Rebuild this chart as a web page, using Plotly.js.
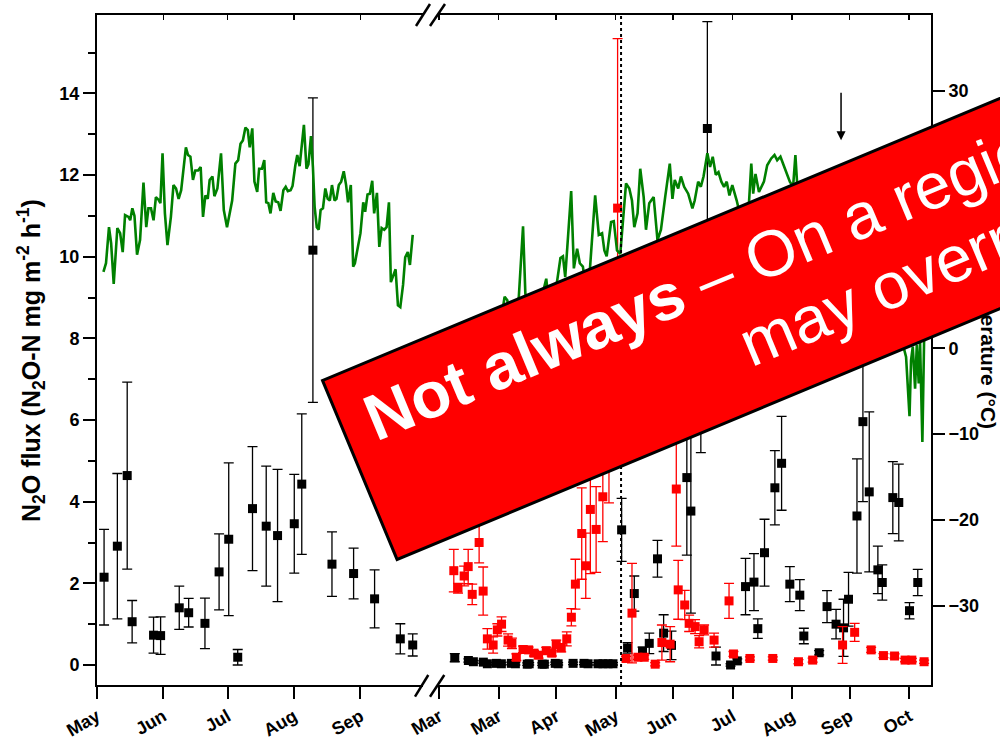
<!DOCTYPE html>
<html>
<head>
<meta charset="utf-8">
<script src="https://cdn.plot.ly/plotly-3.0.1.min.js"></script>
<style>
  html, body { margin: 0; padding: 0; background: #fff; }
  #chart { width: 1000px; height: 739px; }
</style>
</head>
<body>
<div id="chart"></div>
<script>
// ---- Axis ticks (two date segments separated by an axis break) ----
const seg1TickDays = [0, 31, 61, 92, 123];
const seg1TickText = ['May', 'Jun', 'Jul', 'Aug', 'Sep'];
const seg2TickDays = [0, 31, 61, 92, 122, 153, 184, 214, 245];
const seg2TickText = ['Mar', 'Mar', 'Apr', 'May', 'Jun', 'Jul', 'Aug', 'Sep', 'Oct'];

// ---- Temperature (°C), first season ----
const temp1Day = [3.0,4.2,5.6,6.6,7.8,9.5,10.8,12.0,13.1,14.7,15.5,16.5,17.5,18.7,20.1,21.7,23.0,24.0,25.2,26.4,27.5,28.7,29.6,30.6,31.7,32.9,34.5,35.7,36.9,38.1,39.3,41.5,42.5,43.6,44.8,45.9,47.2,48.4,49.5,50.6,51.7,52.6,53.9,54.8,56.2,57.9,59.2,60.7,63.1,64.6,65.9,67.0,68.1,69.3,70.4,71.3,72.5,73.5,74.8,75.7,77.0,78.1,79.0,80.0,81.0,82.3,83.4,84.6,85.7,87.0,88.1,89.1,90.4,91.3,92.6,93.5,94.6,95.6,96.6,97.8,98.7,99.9,100.8,101.6,102.6,103.5,104.4,105.5,106.6,107.7,108.7,109.7,110.9,111.8,112.9,114.0,115.2,116.3,117.2,118.5,119.6,120.4,121.6,123.0,124.3,125.2,126.3,127.4,128.5,129.4,130.7,131.8,132.9,134.1,135.2,136.3,137.2,138.2,139.4,140.5,141.6,142.9,143.9,145.1,146.1,147.4];
const temp1 = [8.9,9.9,14.1,12.2,7.5,14.0,13.4,11.2,15.5,15.3,14.9,16.3,15.4,10.9,12.6,19.3,14.1,16.3,16.3,14.9,17.6,17.3,16.9,22.7,15.7,12.0,15.3,19.0,18.6,17.4,18.4,23.4,22.5,22.3,19.6,20.7,20.7,21.1,15.3,17.8,17.4,19.6,20.0,17.7,18.6,22.7,16.1,14.1,17.2,21.5,21.9,23.8,24.2,25.7,25.4,23.4,25.6,19.4,18.2,20.9,20.9,21.9,17.0,16.9,15.7,18.1,17.1,17.0,16.0,18.4,18.8,18.3,18.4,18.9,21.3,22.5,21.2,23.6,26.0,20.9,21.4,24.7,21.1,16.5,14.1,13.8,16.1,16.3,18.6,17.4,17.2,19.0,17.2,17.4,19.0,19.4,20.6,19.0,17.0,19.0,9.5,9.9,11.6,13.4,17.0,15.9,17.9,18.0,19.5,15.7,18.1,11.8,14.0,13.8,14.1,17.0,7.7,8.3,9.2,5.0,4.8,7.4,10.6,11.2,9.7,13.2];

// ---- Temperature (°C), second season ----
const temp2Day = [0.5,2,4,6,8,10,12,14,16,18,20,22,24,26,28,30,32,34.1,35.5,37,39,41.5,43.7,44.9,47,49,51,53,55.8,57,59,61.9,63.2,64.5,65.7,68.8,70.2,71.9,73.3,74.9,76.5,78.5,81.3,83.2,84.9,86.1,87.3,89.6,91.0,92.7,94.4,97.4,99.1,100.5,101.7,103.4,104.8,106.6,107.8,109.5,111.8,113.8,115.6,117.8,120.2,121.6,122.8,124.6,126.0,127.7,129.8,132.0,133.2,135.0,136.4,137.8,139.8,141.2,142.6,144.2,145.6,147.1,148.5,149.9,151.3,152.8,155.1,157.1,159,161,162.7,163.7,164.9,166.7,169.3,171.0,173.1,174.8,176.2,177.9,179.7,181.4,182.8,184.5,185.7,188,190,192,194,196,198,200,202,204,206,208,210,212,214,216,218,220,222,224,226,228,230,232,234,236,238,240,241.9,243.4,245.2,246.0,246.9,248.1,249.0,250.0,250.7,251.9,252.8];
const temp2 = [1.0,-1.0,0.5,1.5,-0.5,1.0,1.5,0.0,-2.0,1.5,2.5,1.0,3.0,1.0,2.5,4.0,3.0,6.0,5.6,3.5,2.5,6.0,14.2,6.4,4.0,5.0,3.0,5.5,8.1,5.5,4.0,8.3,10.5,10.7,8.3,18.3,9.3,11.6,9.9,9.5,7.0,9.0,17.8,13.2,13.4,11.4,10.7,14.7,14.8,11.4,11.0,19.2,18.6,17.2,14.1,15.7,20.9,17.6,13.8,16.9,17.6,12.6,13.8,17.6,21.5,17.4,19.6,18.6,20.0,18.8,18.0,16.3,17.2,19.4,18.8,20.0,22.7,21.1,22.3,20.2,20.5,19.4,18.8,19.4,17.8,19.0,17.2,15.3,13.0,15.0,21.5,18.0,20.3,18.2,19.4,21.3,22.1,22.5,21.9,22.3,21.3,20.3,19.4,18.8,22.5,14.0,17.0,15.0,17.5,16.0,13.0,16.0,14.0,16.5,12.0,14.0,15.0,11.0,13.0,10.0,12.0,9.0,11.0,8.0,10.0,7.0,5.0,8.0,4.0,6.0,3.0,2.0,0.2,-1.0,-7.9,-1.4,0.2,-4.7,0.4,-4.1,0.6,-10.9,1.0];

// ---- N2O flux, black series, first season ----
const black1Day  = [3.3,9.5,14.1,16.4,26.4,29.7,38.4,42.8,50.4,57.0,61.5,65.7,72.6,79.0,84.3,92.1,95.6,100.8,109.7,119.8,129.6,141.6,147.4];
const black1Flux = [2.15,2.91,4.64,1.06,0.73,0.72,1.40,1.28,1.02,2.28,3.08,0.19,3.83,3.40,3.17,3.46,4.43,10.16,2.47,2.24,1.62,0.64,0.49];
const black1Err  = [1.17,1.78,2.29,0.52,0.44,0.46,0.53,0.35,0.62,0.93,1.87,0.19,1.52,1.47,1.62,1.21,1.72,3.73,0.79,0.62,0.71,0.37,0.27];

// ---- N2O flux, black series, second season ----
const black2Day  = [8.1,15.2,17.8,23.0,25.1,29.8,32.4,37.6,39.7,45.9,46.9,53.7,54.8,60.5,62.0,69.8,75.5,77.6,82.8,85.4,88.0,90.6,95.1,98.2,101.7,106.0,109.5,113.8,117.0,121.1,129.1,131.2,136.4,139.8,144.3,151.9,155.4,159.7,164.1,166.1,169.6,175.0,178.5,182.8,188.0,190.1,198.1,202.2,206.9,210.8,213.4,217.8,220.9,224.2,228.7,231.0,236.5,239.6,245.2,249.5];
const black2Flux = [0.18,0.11,0.08,0.07,0.03,0.04,0.03,0.04,0.03,0.02,0.03,0.02,0.02,0.04,0.03,0.04,0.04,0.03,0.03,0.03,0.03,0.03,3.31,0.42,1.75,0.34,0.53,2.60,0.78,0.48,4.59,3.77,6.90,13.14,0.22,0.00,0.10,1.92,2.03,0.89,2.75,4.34,4.94,1.98,1.71,0.71,0.30,1.43,1.00,0.91,1.61,3.65,5.96,4.24,2.33,2.02,4.10,3.98,1.33,2.02];
const black2Err  = [0.10,0.04,0.03,0.03,0.03,0.03,0.03,0.03,0.03,0.03,0.03,0.03,0.03,0.03,0.03,0.03,0.03,0.03,0.03,0.03,0.03,0.03,0.77,0.13,0.43,0.10,0.25,0.45,0.45,0.35,1.90,2.50,1.70,2.62,0.22,0.03,0.05,0.69,0.70,0.24,0.82,0.91,1.15,0.43,0.38,0.19,0.05,0.39,0.36,0.70,0.66,1.40,1.96,1.96,0.58,0.43,0.88,0.94,0.20,0.32];

// ---- N2O flux, red series, second season ----
const redDay  = [7.6,9.8,13.0,15.1,17.2,20.8,22.9,25.1,28.1,30.3,32.5,35.9,37.9,40.2,43.7,46.6,49.4,51.8,55.8,58.7,61.0,63.6,66.5,68.9,71.0,74.3,76.4,78.8,81.8,85.3,88.5,93.0,97.4,100.5,103.6,106.9,112.6,116.1,120.4,123.6,124.6,128.0,130.3,133.4,135.5,138.1,143.3,151.1,153.4,162.0,173.9,187.3,194.7,210.3,216.6,225.2,231.6,237.4,242.9,246.4,252.8];
const redFlux = [2.31,1.88,2.18,2.41,1.73,3.00,1.81,0.64,0.49,0.86,1.00,0.61,0.53,0.19,0.38,0.37,0.29,0.24,0.35,0.29,0.51,0.42,0.64,1.17,1.98,3.22,2.43,3.81,3.32,4.12,5.30,11.19,0.16,1.27,0.19,0.19,0.02,0.55,0.51,4.31,1.84,1.47,1.02,0.94,0.57,0.86,0.61,1.57,0.27,0.16,0.16,0.08,0.12,0.49,0.80,0.37,0.23,0.22,0.12,0.12,0.08];
const redErr  = [0.52,0.12,0.24,0.42,0.25,0.50,0.59,0.25,0.20,0.15,0.18,0.15,0.13,0.08,0.08,0.07,0.07,0.07,0.08,0.07,0.10,0.10,0.17,0.21,0.61,1.12,0.80,1.57,1.05,1.10,1.33,4.15,0.05,1.22,0.05,0.05,0.04,0.43,0.43,1.40,0.72,0.36,0.20,0.17,0.15,0.12,0.17,0.43,0.06,0.04,0.04,0.05,0.05,0.45,0.22,0.06,0.05,0.05,0.04,0.04,0.04];

// ---- Event markers ----
const fertiliserDay = 94.8;     // dotted vertical line, second season
const arrowDay = 209.5;         // arrow, second season
const arrowFlux = 12.85;

// ---- Styling ----
const FONT = 'Liberation Sans, Arial, Helvetica, sans-serif';
const GREEN = '#008000';
const RED = '#ff0000';

function fluxTrace(x, y, err, color, xaxis) {
  return {
    type: 'scatter', mode: 'markers', x: x, y: y, xaxis: xaxis, yaxis: 'y',
    marker: { symbol: 'square', size: 9, color: color, line: { width: 0 } },
    error_y: { type: 'data', array: err, visible: true, color: color, thickness: 1.3, width: 5 },
    hoverinfo: 'x+y', showlegend: false, cliponaxis: false
  };
}

const traces = [
  { type: 'scatter', mode: 'lines', x: temp1Day, y: temp1, xaxis: 'x', yaxis: 'y2',
    line: { color: GREEN, width: 2.6 }, showlegend: false },
  { type: 'scatter', mode: 'lines', x: temp2Day, y: temp2, xaxis: 'x2', yaxis: 'y2',
    line: { color: GREEN, width: 2.6 }, showlegend: false },
  fluxTrace(black1Day, black1Flux, black1Err, '#000', 'x'),
  fluxTrace(black2Day, black2Flux, black2Err, '#000', 'x2'),
  fluxTrace(redDay, redFlux, redErr, RED, 'x2'),
  // carriers for the top (mirror) axes
  { type: 'scatter', mode: 'markers', x: [null], y: [null], xaxis: 'x3', yaxis: 'y', showlegend: false, hoverinfo: 'skip' },
  { type: 'scatter', mode: 'markers', x: [null], y: [null], xaxis: 'x4', yaxis: 'y', showlegend: false, hoverinfo: 'skip' }
];

// plot frame in pixels
const L = 97, R = 931, T = 15, B = 685, W = 1000, H = 739;
const px2paperX = p => (p - L) / (R - L);
const px2paperY = p => (B - p) / (B - T);
const seg1End = 423, seg2Start = 437.5;

const tickFont = { family: FONT, size: 18, color: '#000', weight: 'bold' };

function bottomAxis(domain, range, vals, text) {
  return {
    domain: domain, range: range, anchor: 'y',
    tickmode: 'array', tickvals: vals, ticktext: text, tickangle: -30,
    ticks: 'outside', ticklen: 12, tickwidth: 2, tickcolor: '#000',
    showline: true, linewidth: 2, linecolor: '#000',
    showgrid: false, zeroline: false, tickfont: tickFont, fixedrange: true
  };
}
function topAxis(over, range, vals) {
  return {
    overlaying: over, side: 'top', anchor: 'y', range: range,
    tickmode: 'array', tickvals: vals, showticklabels: false,
    ticks: 'inside', ticklen: 5, tickwidth: 1.5, tickcolor: '#000',
    showline: true, linewidth: 2, linecolor: '#000',
    showgrid: false, zeroline: false, fixedrange: true
  };
}

const range1 = [0, 152.2];
const range2 = [-0.9, 256.4];

const breakMark = (x0, y0, x1, y1) => ({
  type: 'line', xref: 'paper', yref: 'paper',
  x0: px2paperX(x0), y0: px2paperY(y0), x1: px2paperX(x1), y1: px2paperY(y1),
  line: { color: '#000', width: 2.5 }
});

// banner geometry (rotated strip crossing the plot)
const ang = 22.6 * Math.PI / 180;
const ux = Math.cos(ang), uy = -Math.sin(ang);   // along the strip
const nx = Math.sin(ang), ny = Math.cos(ang);    // across the strip (downwards)
const stripLen = 900, stripThick = 197;
const stripLeftMid = [358.85, 470.85];
const stripCenter = [stripLeftMid[0] + ux * stripLen / 2, stripLeftMid[1] + uy * stripLen / 2];

const bannerSize = 65;
function lineCenter(start, widthEm) {
  const w = widthEm * bannerSize;
  const up = 0.33 * bannerSize;
  return [start[0] + ux * w / 2 - nx * up, start[1] + uy * w / 2 - ny * up];
}
const line1Start = [376, 441], line2Start = [751, 366];
const c1 = lineCenter(line1Start, 11.561);
const c2 = lineCenter(line2Start, 5.779);

const layout = {
  width: W, height: H,
  margin: { l: L, r: W - R, t: T, b: H - B, pad: 0 },
  paper_bgcolor: '#fff', plot_bgcolor: '#fff',
  showlegend: false,
  font: { family: FONT, color: '#000' },
  xaxis: bottomAxis([0, px2paperX(seg1End)], range1, seg1TickDays, seg1TickText),
  xaxis2: bottomAxis([px2paperX(seg2Start), 1], range2, seg2TickDays, seg2TickText),
  xaxis3: topAxis('x', range1, seg1TickDays),
  xaxis4: topAxis('x2', range2, seg2TickDays),
  yaxis: {
    range: [-0.49, 15.92], anchor: 'x', side: 'left',
    tickmode: 'linear', tick0: 0, dtick: 2,
    ticks: 'outside', ticklen: 12, tickwidth: 2, tickcolor: '#000',
    minor: { tickmode: 'linear', tick0: 0, dtick: 1, ticks: 'outside', ticklen: 7, tickwidth: 2, tickcolor: '#000' },
    showline: true, linewidth: 2, linecolor: '#000',
    showgrid: false, zeroline: false, tickfont: tickFont, fixedrange: true
  },
  yaxis2: {
    range: [-39.2, 38.8], overlaying: 'y', anchor: 'x2', side: 'right',
    tickmode: 'linear', tick0: 0, dtick: 10,
    ticks: 'outside', ticklen: 12, tickwidth: 2, tickcolor: '#000',
    showline: true, linewidth: 2, linecolor: '#000',
    showgrid: false, zeroline: false, tickfont: tickFont, fixedrange: true
  },
  shapes: [
    { type: 'line', xref: 'x2', yref: 'paper', x0: fertiliserDay, x1: fertiliserDay, y0: 0, y1: 1,
      line: { color: '#000', width: 2, dash: 'dot' } },
    breakMark(415, 696.7, 428.3, 675), breakMark(430, 696.7, 444.3, 675),
    breakMark(416, 26, 430, 4), breakMark(430, 26, 445, 4)
  ],
  annotations: [
    { xref: 'paper', yref: 'paper', x: px2paperX(989), y: px2paperY(344),
      text: 'Temperature (°C)', textangle: 90, showarrow: false,
      xanchor: 'center', yanchor: 'middle',
      font: { family: FONT, size: 21, color: '#000', weight: 'bold' } },
    { xref: 'paper', yref: 'paper', x: px2paperX(31), y: px2paperY(361),
      text: 'N<sub>2</sub>O flux (N<sub>2</sub>O-N mg m<sup>-2</sup> h<sup>-1</sup>)', textangle: -90, showarrow: false,
      xanchor: 'center', yanchor: 'middle',
      font: { family: FONT, size: 25, color: '#000', weight: 'bold' } },
    { xref: 'paper', yref: 'paper', x: px2paperX(stripCenter[0]), y: px2paperY(stripCenter[1]),
      text: ' ', showarrow: false, textangle: -22.6,
      width: stripLen - 6, height: stripThick - 6, borderpad: 0,
      bgcolor: RED, bordercolor: '#000', borderwidth: 3,
      xanchor: 'center', yanchor: 'middle' },
    { xref: 'paper', yref: 'paper', x: px2paperX(c1[0]), y: px2paperY(c1[1]),
      text: '<b>Not always</b> – On a region', showarrow: false, textangle: -22.6,
      xanchor: 'center', yanchor: 'middle',
      font: { family: FONT, size: bannerSize, color: '#fff' } },
    { xref: 'paper', yref: 'paper', x: px2paperX(c2[0]), y: px2paperY(c2[1]),
      text: 'may override', showarrow: false, textangle: -22.6,
      xanchor: 'center', yanchor: 'middle',
      font: { family: FONT, size: bannerSize, color: '#fff' } },
    { xref: 'x2', yref: 'y', x: arrowDay, y: arrowFlux, ax: 0, ay: -49,
      text: '', showarrow: true, arrowhead: 2, arrowsize: 1.2, arrowwidth: 1.5, arrowcolor: '#000' }
  ]
};

Plotly.newPlot('chart', traces, layout, { staticPlot: true, displayModeBar: false });
</script>
</body>
</html>
